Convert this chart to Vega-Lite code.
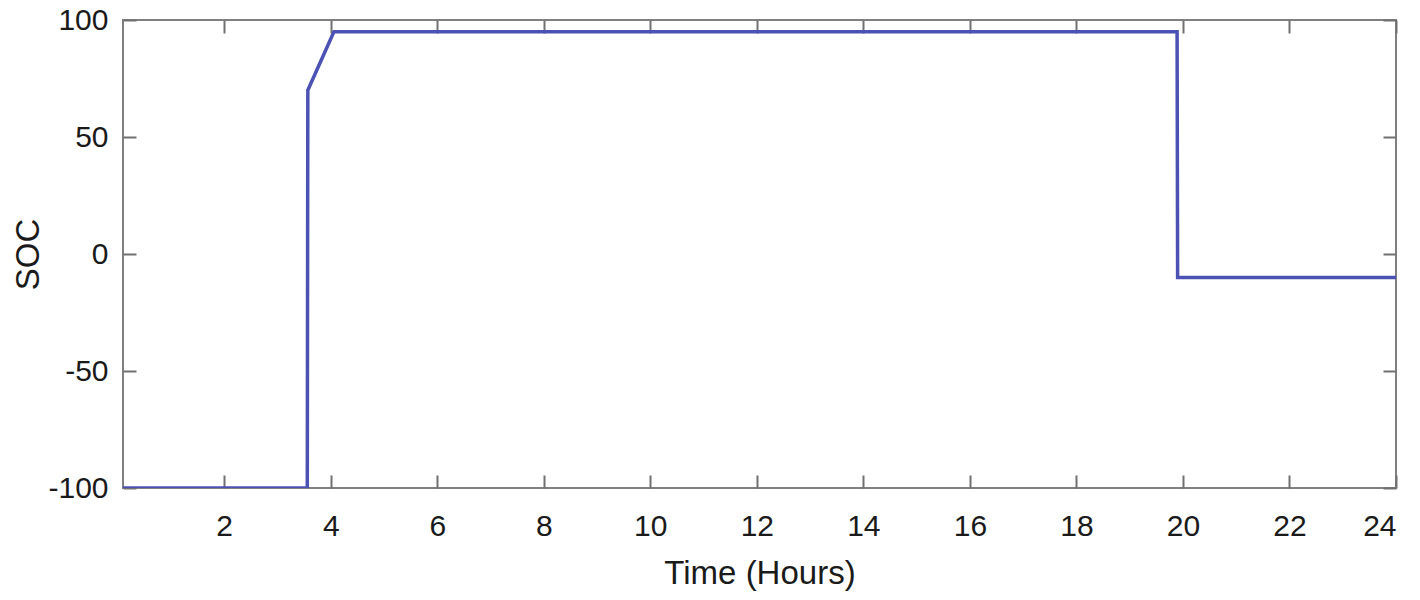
{
  "$schema": "https://vega.github.io/schema/vega-lite/v6.json",
  "width": 1273,
  "height": 468,
  "autosize": {"type": "none"},
  "padding": {"left": 123, "top": 20, "right": 24, "bottom": 112},
  "background": "white",
  "config": {
    "font": "Liberation Sans",
    "view": {"stroke": "#808080", "strokeWidth": 2},
    "axis": {
      "grid": false,
      "domain": false,
      "tickColor": "#707070",
      "tickWidth": 2,
      "labelFont": "Liberation Sans",
      "titleFont": "Liberation Sans",
      "labelFontSize": 30,
      "titleFontSize": 33,
      "labelColor": "#1a1a1a",
      "titleColor": "#1a1a1a",
      "titleFontWeight": "normal"
    }
  },
  "data": {
    "values": [
      {"t": 0.1, "soc": -100},
      {"t": 3.56, "soc": -100},
      {"t": 3.57, "soc": 70},
      {"t": 4.06, "soc": 95},
      {"t": 19.89, "soc": 95},
      {"t": 19.9, "soc": -10},
      {"t": 24, "soc": -10}
    ]
  },
  "layer": [
    {
      "mark": {"type": "line", "color": "#4b52b3", "strokeWidth": 3.5, "clip": true},
      "encoding": {
        "x": {
          "field": "t", "type": "quantitative",
          "scale": {"domain": [0.1, 24], "nice": false, "zero": false},
          "axis": {
            "orient": "bottom", "title": "Time (Hours)",
            "values": [2, 4, 6, 8, 10, 12, 14, 16, 18, 20, 22, 24],
            "tickSize": -13, "labelPadding": 60,
            "labelBaseline": "alphabetic",
            "titleX": 636.5, "titleY": 95, "titleBaseline": "alphabetic", "titleAlign": "center"
          }
        },
        "y": {
          "field": "soc", "type": "quantitative",
          "scale": {"domain": [-100, 100], "nice": false},
          "axis": {
            "orient": "left", "title": "SOC",
            "values": [-100, -50, 0, 50, 100],
            "labelExpr": "'' + datum.value",
            "tickSize": -13, "labelPadding": 28,
            "titleX": -85, "titleY": 234, "titleAngle": 270, "titleBaseline": "alphabetic", "titleAlign": "center"
          }
        }
      }
    },
    {
      "mark": {"type": "line", "opacity": 0},
      "encoding": {
        "x": {
          "field": "t", "type": "quantitative",
          "scale": {"domain": [0.1, 24], "nice": false, "zero": false},
          "axis": {
            "orient": "top", "title": null, "labels": false,
            "values": [2, 4, 6, 8, 10, 12, 14, 16, 18, 20, 22, 24],
            "tickSize": -13
          }
        },
        "y": {
          "field": "soc", "type": "quantitative",
          "scale": {"domain": [-100, 100], "nice": false},
          "axis": {
            "orient": "right", "title": null, "labels": false,
            "values": [-100, -50, 0, 50, 100],
            "tickSize": -13
          }
        }
      }
    }
  ],
  "resolve": {"axis": {"x": "independent", "y": "independent"}}
}
